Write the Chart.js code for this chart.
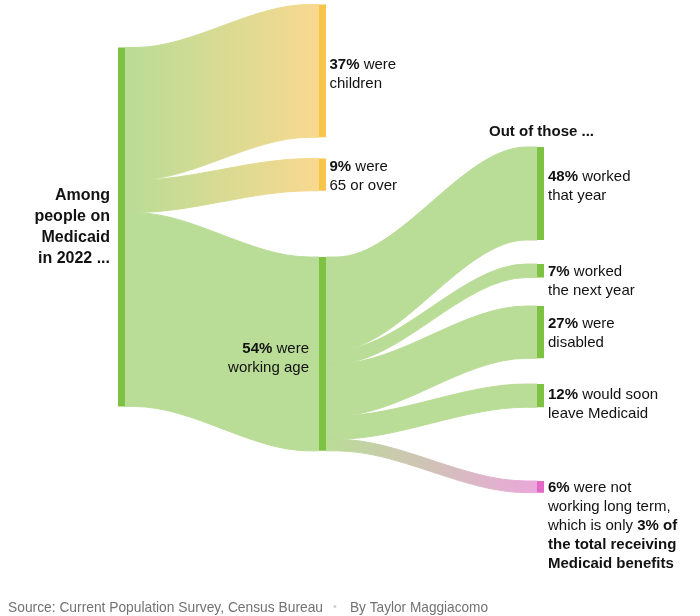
<!DOCTYPE html>
<html>
<head>
<meta charset="utf-8">
<script src="https://cdn.jsdelivr.net/npm/chart.js@4.4.1/dist/chart.umd.min.js"></script>
<style>
  body { margin: 0; background: #fff; }
  #wrap { position: relative; width: 700px; height: 616px; }
</style>
</head>
<body>
<div id="wrap"><canvas id="sankey"></canvas></div>
<script>
// everyone on Medicaid in 2022, split by group (percent of total)
const groupShares = [37, 9, 54];
const groupVerbs = ['were', 'were', 'were'];
const groupNames = ['children', '65 or over', 'working age'];

// working-age people, split by work status (percent of working age)
const statusShares = [48, 7, 27, 12, 6];
const statusLabels = [
  ['worked', 'that year'],
  ['worked', 'the next year'],
  ['were', 'disabled'],
  ['would soon', 'leave Medicaid'],
  ['were not', 'working long term,', 'which is only **{total}% of**', '**the total receiving**', '**Medicaid benefits**']
];

const titleLines = ['Among', 'people on', 'Medicaid', 'in 2022 ...'];
const subTitle = 'Out of those ...';
const sourceText = 'Source: Current Population Survey, Census Bureau';
const creditText = 'By Taylor Maggiacomo';

// layout (page pixels)
const PX_PER_PCT = 3.59;
const COL_X = [121.5, 322.5, 540.5];
const NODE_W = 7;
const ROOT_TOP = 47.5;
const GROUP_TOPS = [4.5, 158.5, 257];
const STATUS_TOPS = [147, 264, 306, 384, 481];
const STATUS_NUDGE = [-8, 0, 0, -2, 0];
const FONT = "'Liberation Sans', Arial, sans-serif";
const INK = '#121212';

const GREEN_NODE = '#7dc243';
const GREEN_LINK = '#b9dc96';
const YELLOW_NODE = '#f8c54b';
const YELLOW_LINK = '#f8d98f';
const PINK_NODE = '#e26ac4';
const PINK_LINK = '#eaa7da';

const groupNodeColors = [YELLOW_NODE, YELLOW_NODE, GREEN_NODE];
const groupLinkColors = [YELLOW_LINK, YELLOW_LINK, GREEN_LINK];
const statusNodeColors = [GREEN_NODE, GREEN_NODE, GREEN_NODE, GREEN_NODE, PINK_NODE];
const statusLinkColors = [GREEN_LINK, GREEN_LINK, GREEN_LINK, GREEN_LINK, PINK_LINK];

const u = px => px / PX_PER_PCT;
const workingShare = groupShares[2];

function edge(xa, ya, xb, yb) {
  const run = (xb - xa) * 0.05;
  return [{x: xa, y: ya}, {x: xa + run, y: ya}, {x: xb - run, y: yb}, {x: xb, y: yb}];
}

function shade(c0, c1, xa, xb) {
  if (c0 === c1) return c0;
  return (context) => {
    const chart = context.chart;
    if (!chart.chartArea) return c0;
    const sx = chart.scales.x;
    const g = chart.ctx.createLinearGradient(sx.getPixelForValue(xa), 0, sx.getPixelForValue(xb), 0);
    g.addColorStop(0, c0);
    g.addColorStop(1, c1);
    return g;
  };
}

const datasets = [];

function addNode(col, top, size, color) {
  datasets.push({
    data: [{x: COL_X[col], y: top}, {x: COL_X[col], y: top + size}],
    borderColor: color,
    borderWidth: NODE_W,
    borderCapStyle: 'butt',
    pointRadius: 0,
    fill: false,
    order: -1
  });
}

function addLink(c0, y0, c1, y1, size, colorA, colorB) {
  const xa = COL_X[c0] + NODE_W / 2;
  const xb = COL_X[c1] - NODE_W / 2;
  const paint = shade(colorA, colorB, xa, xb);
  const base = {
    cubicInterpolationMode: 'monotone',
    pointRadius: 0,
    borderWidth: 1,
    borderColor: paint,
    order: 1
  };
  datasets.push({...base, data: edge(xa, y0, xb, y1), fill: false});
  datasets.push({...base, data: edge(xa, y0 + size, xb, y1 + size), fill: '-1', backgroundColor: paint});
}

// root -> groups
let acc = u(ROOT_TOP);
groupShares.forEach((share, i) => {
  addLink(0, acc, 1, u(GROUP_TOPS[i]), share, GREEN_LINK, groupLinkColors[i]);
  acc += share;
});

// working age -> statuses
acc = u(GROUP_TOPS[2]);
statusShares.forEach((share, i) => {
  const size = share * workingShare / 100;
  addLink(1, acc, 2, u(STATUS_TOPS[i]), size, GREEN_LINK, statusLinkColors[i]);
  acc += size;
});

addNode(0, u(ROOT_TOP), 100, GREEN_NODE);
groupShares.forEach((share, i) => addNode(1, u(GROUP_TOPS[i]), share, groupNodeColors[i]));
statusShares.forEach((share, i) => addNode(2, u(STATUS_TOPS[i]), share * workingShare / 100, statusNodeColors[i]));

function richLine(ctx, text, x, y, align, size, bold) {
  const parts = text.split('**');
  const fonts = parts.map((p, i) => ((i % 2 === 1) !== bold ? 'bold ' : '') + size + 'px ' + FONT);
  let total = 0;
  parts.forEach((p, i) => { ctx.font = fonts[i]; total += ctx.measureText(p).width; });
  let cx = align === 'right' ? x - total : x;
  ctx.textAlign = 'left';
  parts.forEach((p, i) => {
    ctx.font = fonts[i];
    ctx.fillText(p, cx, y);
    cx += ctx.measureText(p).width;
  });
}

function block(ctx, lines, x, firstCenter, align, size, bold, lh) {
  lines.forEach((line, k) => richLine(ctx, line, x, firstCenter + k * lh + size * 0.36, align, size, bold));
}

// narrow grey footer text, squeezed horizontally like the original
function footerText(ctx, text, x, y, squeeze) {
  ctx.save();
  ctx.translate(x, y);
  ctx.scale(squeeze, 1);
  ctx.fillText(text, 0, 0);
  const w = ctx.measureText(text).width * squeeze;
  ctx.restore();
  return w;
}

const labelPlugin = {
  id: 'sankeyLabels',
  afterDatasetsDraw(chart) {
    const {ctx} = chart;
    const sx = chart.scales.x, sy = chart.scales.y;
    ctx.save();
    ctx.fillStyle = INK;
    ctx.textBaseline = 'alphabetic';

    // title, centred on the root node
    const rootMid = sy.getPixelForValue(u(ROOT_TOP) + 50);
    const tlh = 21;
    block(ctx, titleLines, sx.getPixelForValue(COL_X[0] - 11.5), rootMid - tlh * 1.5 - 1, 'right', 16, true, tlh);

    const lh = 19;
    // group labels
    groupShares.forEach((share, i) => {
      const lines = ['**' + share + '%** ' + groupVerbs[i], groupNames[i]];
      const mid = sy.getPixelForValue(u(GROUP_TOPS[i]) + share / 2);
      if (i === 2) {
        block(ctx, lines, sx.getPixelForValue(COL_X[1] - NODE_W / 2 - 10), mid - lh / 2 + 3.5, 'right', 15, false, lh);
      } else {
        block(ctx, lines, sx.getPixelForValue(COL_X[1] + NODE_W / 2 + 3.5), mid - lh / 2 + (i === 0 ? 2 : 0), 'left', 15, false, lh);
      }
    });

    // "Out of those ..."
    richLine(ctx, subTitle, sx.getPixelForValue(COL_X[2] - 51.5), sy.getPixelForValue(u(STATUS_TOPS[0] - 16)) + 5.4, 'left', 15, true);

    // status labels
    statusShares.forEach((share, i) => {
      const size = share * workingShare / 100;
      const total = Math.round(size);
      const lines = statusLabels[i].map((t, k) => k === 0 ? '**' + share + '%** ' + t : t.replace('{total}', total));
      const topPx = sy.getPixelForValue(u(STATUS_TOPS[i]));
      const botPx = sy.getPixelForValue(u(STATUS_TOPS[i]) + size);
      const mid = (topPx + botPx) / 2;
      const first = (botPx - topPx) > 30 ? mid - (lines.length - 1) * lh / 2 : mid;
      block(ctx, lines, sx.getPixelForValue(COL_X[2] + NODE_W / 2 + 4), first + STATUS_NUDGE[i], 'left', 15, false, lh);
    });

    // source line
    ctx.font = '15px ' + FONT;
    ctx.textAlign = 'left';
    ctx.fillStyle = '#727272';
    const sw = footerText(ctx, sourceText, 8, 612, 0.92);
    ctx.fillStyle = '#d0d0d0';
    ctx.font = '11px ' + FONT;
    footerText(ctx, '\u2022', 8 + sw + 10, 610, 1);
    ctx.font = '15px ' + FONT;
    ctx.fillStyle = '#727272';
    footerText(ctx, creditText, 350, 612, 0.91);
    ctx.restore();
  }
};

new Chart(document.getElementById('sankey'), {
  type: 'line',
  data: {datasets},
  options: {
    responsive: true,
    maintainAspectRatio: false,
    animation: false,
    events: [],
    layout: {padding: 0},
    scales: {
      x: {type: 'linear', min: 0, max: 700, display: false},
      y: {type: 'linear', min: 0, max: u(616), reverse: true, display: false}
    },
    plugins: {
      legend: {display: false},
      tooltip: {enabled: false},
      filler: {drawTime: 'beforeDatasetsDraw'}
    }
  },
  plugins: [labelPlugin]
});
</script>
</body>
</html>
